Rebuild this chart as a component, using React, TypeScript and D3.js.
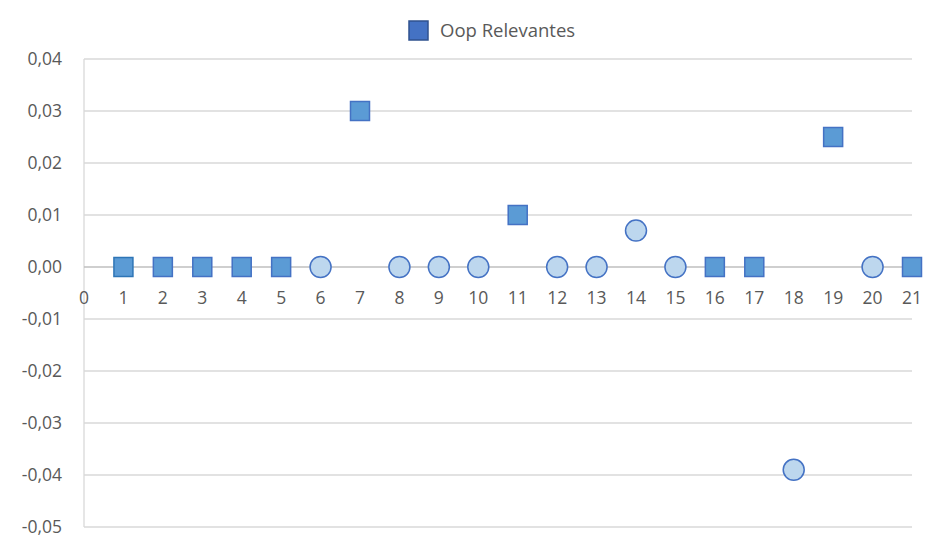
import React from "react";
import * as d3 from "d3";

// Observation index and value for each point
const xs = [1, 2, 3, 4, 5, 6, 7, 8, 9, 10, 11, 12, 13, 14, 15, 16, 17, 18, 19, 20, 21];
const ys = [0, 0, 0, 0, 0, 0, 0.03, 0, 0, 0, 0.01, 0, 0, 0.007, 0, 0, 0, -0.039, 0.025, 0, 0];
// Marker type: "s" = relevant (square), "c" = other (circle)
const kinds = ["s", "s", "s", "s", "s", "c", "s", "c", "c", "c", "s", "c", "c", "c", "c", "s", "s", "c", "s", "c", "s"];

const yTicks = [0.04, 0.03, 0.02, 0.01, 0, -0.01, -0.02, -0.03, -0.04, -0.05];
const xTicks = d3.range(0, 22);
const legendLabel = "Oop Relevantes";

const W = 925;
const H = 537;
const font = "'Open Sans', Lato, sans-serif";
const tickSize = 17.5;
const fmt = (v: number) => v.toFixed(2).replace(".", ",");

export default function App() {
  const x = d3.scaleLinear().domain([0, 21]).range([84, 912]);
  const y = d3.scaleLinear().domain([-0.05, 0.04]).range([527, 59]);

  return (
    <svg width={W} height={H} style={{ position: "absolute", left: 0, top: 0, background: "#fff" }}>
      {/* horizontal gridlines */}
      {yTicks.filter((t) => t !== 0).map((t) => (
        <line key={t} x1={x(0)} x2={x(21)} y1={y(t)} y2={y(t)} stroke="#d9d9d9" strokeWidth={1.3} />
      ))}
      {/* vertical axis */}
      <line x1={x(0)} x2={x(0)} y1={y(0.04)} y2={y(-0.05)} stroke="#d9d9d9" strokeWidth={1.3} />
      {/* horizontal axis at zero */}
      <line x1={x(0)} x2={x(21)} y1={y(0)} y2={y(0)} stroke="#bfbfbf" strokeWidth={1.3} />

      {yTicks.map((t) => (
        <text key={t} x={62} y={y(t)} dy="0.36em" textAnchor="end" fontFamily={font} fontSize={tickSize} fill="#595959">
          {fmt(t)}
        </text>
      ))}
      {xTicks.map((t) => (
        <text key={t} x={x(t)} y={y(0) + 31} dy="0.36em" textAnchor="middle" fontFamily={font} fontSize={tickSize} fill="#595959">
          {t}
        </text>
      ))}

      {xs.map((v, i) =>
        kinds[i] === "s" ? (
          <rect
            key={v}
            x={x(v) - 9.5}
            y={y(ys[i]) - 9.5}
            width={19}
            height={19}
            fill="#5b9bd5"
            stroke={i === 0 ? "#2e75b6" : "#4472c4"}
            strokeWidth={1.5}
          />
        ) : (
          <circle key={v} cx={x(v)} cy={y(ys[i])} r={10.5} fill="#bdd7ee" stroke="#4472c4" strokeWidth={1.5} />
        )
      )}

      {/* legend */}
      <rect x={409} y={21} width={19} height={19} fill="#4472c4" stroke="#2f528f" strokeWidth={1.5} />
      <text x={440} y={30} dy="0.36em" fontFamily={font} fontSize={18.5} fill="#595959">
        {legendLabel}
      </text>
    </svg>
  );
}
